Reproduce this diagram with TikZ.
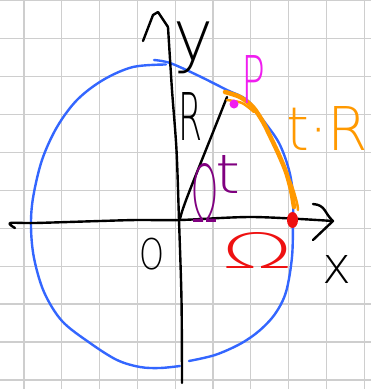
\documentclass[tikz,border=0pt]{standalone}
\usepackage{fontspec}
\setmainfont{Liberation Sans}
\newfontfamily\handfont{DejaVu Sans ExtraLight}
\usepackage{graphicx}
\usetikzlibrary{shapes.geometric}
\definecolor{gridgray}{RGB}{206,206,206}
\definecolor{penblue}{RGB}{51,102,255}
\definecolor{penorange}{RGB}{255,153,0}
\definecolor{penmag}{RGB}{240,30,240}
\definecolor{penpurple}{RGB}{128,0,128}
\definecolor{penred}{RGB}{238,17,17}
\begin{document}
\begin{tikzpicture}[x=1pt,y=-1pt,line cap=round,line join=round,
  gridline/.style={draw=gridgray,line width=1.3pt},
  pen/.style={draw=black,line width=2.4pt},
  bluepen/.style={draw=penblue,line width=2.4pt},
  orangepen/.style={draw=penorange,line width=4.5pt},
  lbl/.style={inner sep=0pt,outer sep=0pt,font=\handfont}]
\useasboundingbox (0,0) rectangle (371,389);
\fill[white] (0,0) rectangle (371,389);
% grid paper
\foreach \i in {0,...,9} \draw[gridline] ({24+37.8*\i},0) -- ({24+37.8*\i},389);
\foreach \j in {0,...,10} \draw[gridline] (0,{0.5+37.95*\j}) -- (371,{0.5+37.95*\j});
% blue circle
\draw[bluepen] plot[smooth,tension=0.55] coordinates {(154,60) (170,63) (197,75) (227,90) (247,100) (263,120) (279,143) (289,170) (293,195) (293,220) (292,257) (286,292) (275,314) (259,331) (240,344) (215,355) (189,361)};
\draw[bluepen] plot[smooth,tension=0.55] coordinates {(180,366) (160,368) (140,367) (117,360) (90,343) (62,321) (44,292) (34,258) (31,227) (33,198) (42,160) (57,127) (77,100) (103,80) (133,67) (166,64.5)};
% named points
\coordinate (orig) at (180,219);
\coordinate (rtip) at (227,97);
\coordinate (xend) at (333,221);
\coordinate (ytip) at (168,27);
% axes
\draw[pen] plot[smooth] coordinates {(15,228) (10,223) (35,223) (100,221) (137,220) (180,220) (253,217) (333,221)};
\draw[pen] (313,204) .. controls (326,205) and (324,213) .. (xend) -- (313,240);
\draw[pen] plot[smooth] coordinates {(168,27) (172,90) (176.5,150) (179,220) (181.5,300) (182,383)};
\draw[pen] (143,41) -- (153,15) -- (158,12) -- (ytip);
% radius
\draw[pen] (orig) .. controls (183,205) and (195,178) .. (rtip);
% orange arc t.R
\draw[orangepen] plot[smooth] coordinates {(225,92) (240,97) (253,107) (263,122) (271,138) (279,155) (286,172) (291,190) (294,207)};
\draw[penorange,line width=2.5pt] plot[smooth] coordinates {(227,100) (242,103) (254,112)};
\draw[penorange,line width=2.5pt] plot[smooth] coordinates {(284,168) (292,186) (297,203) (298,210)};
% dots
\node[circle,fill=penmag,minimum size=9pt,inner sep=0pt] (Pdot) at (234,104) {};
\node[ellipse,fill=penred,minimum width=11pt,minimum height=16pt,inner sep=0pt] (Rdot) at (292.5,220) {};
% labels
\node[lbl,text=black] (ylab) at (193,48) {\resizebox*{40pt}{52pt}{y}};
\node[lbl,text=black] (Rlab) at (191,116) {\resizebox*{24pt}{48pt}{R}};
\node[lbl,text=penmag] (Plab) at (254,79) {\resizebox*{24pt}{48pt}{P}};
\node[lbl,text=penorange] (tRlab) at (327.5,128) {\resizebox*{82pt}{44pt}{t·R}};
\node[lbl,text=penpurple,anchor=base west] (omt) at (191,193) {\raisebox{-29pt}{\resizebox*{27pt}{59pt}{Ω}}\hspace{-3pt}\resizebox*{25pt}{38pt}{t}};
\node[lbl,text=black] (Olab) at (151.5,254) {\resizebox*{25pt}{32pt}{O}};
\node[lbl,text=black] (xlab) at (336.5,269) {\resizebox*{29pt}{28pt}{x}};
\node[lbl,text=penred] (Omlab) at (258,250) {\resizebox*{72pt}{36pt}{Ω}};
\end{tikzpicture}
\end{document}
